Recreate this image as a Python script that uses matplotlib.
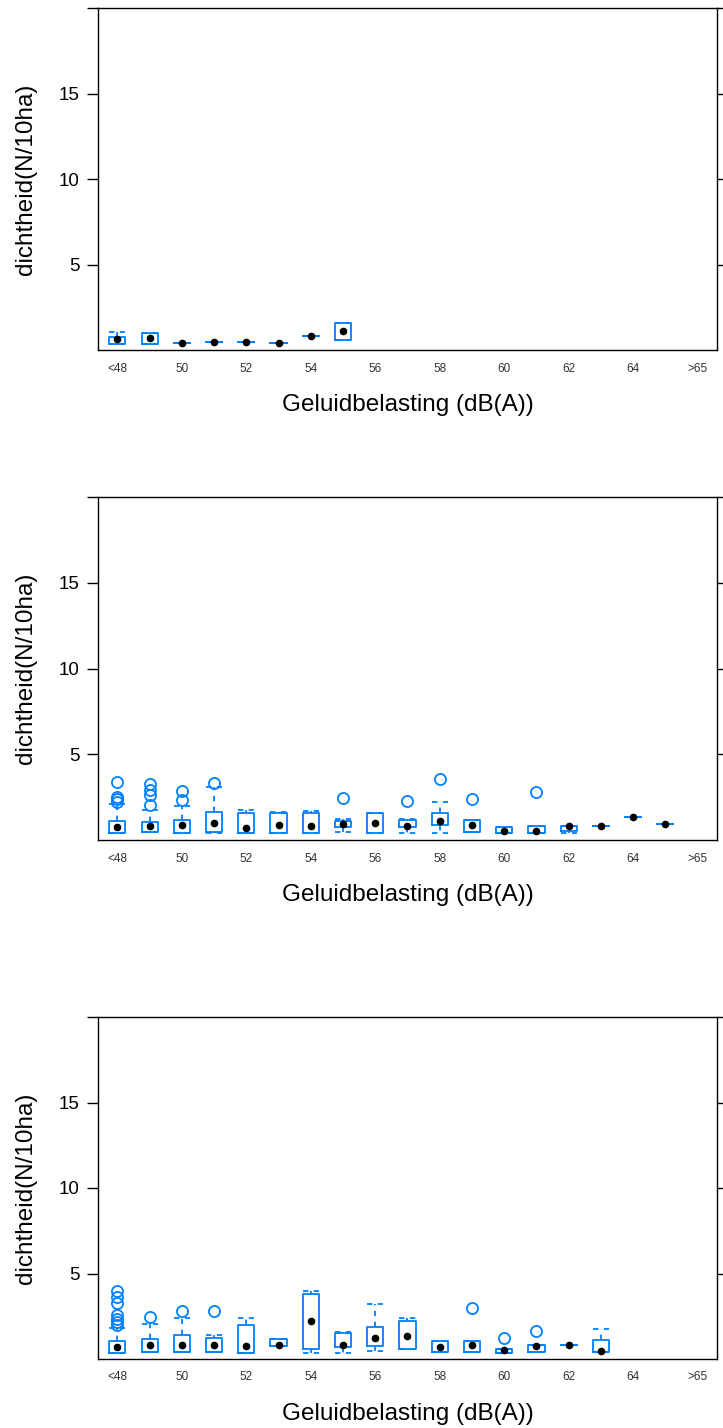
import numpy as np
import matplotlib.pyplot as plt

plt.rcParams['font.family'] = ['Liberation Sans', 'DejaVu Sans']

nan = np.nan

categories = ['<48'] + [str(i) for i in range(49, 66)] + ['>65']
tick_pos = list(range(0, 19, 2))
tick_labels = [categories[i] for i in tick_pos]

# panel 1
p1_lo = [0.33, 0.37, 0.39, 0.45, 0.45, 0.41, 0.80, 0.58] + [nan] * 11
p1_q1 = [0.33, 0.37, 0.39, 0.45, 0.45, 0.41, 0.80, 0.58] + [nan] * 11
p1_med = [0.66, 0.70, 0.39, 0.45, 0.45, 0.41, 0.80, 1.09] + [nan] * 11
p1_q3 = [0.74, 0.98, 0.39, 0.45, 0.45, 0.41, 0.80, 1.56] + [nan] * 11
p1_hi = [1.07, 0.98, 0.39, 0.45, 0.45, 0.41, 0.80, 1.56] + [nan] * 11
p1_fl = [[] for _ in range(19)]

# panel 2
p2_lo = [0.40, 0.45, 0.40, 0.43, 0.43, 0.43, 0.43, 0.48, 0.43, 0.43,
         0.43, 0.45, 0.43, 0.39, 0.43, 0.82, 1.34, 0.93, nan]
p2_q1 = [0.43, 0.48, 0.43, 0.48, 0.43, 0.43, 0.43, 0.74, 0.43, 0.74,
         0.87, 0.47, 0.43, 0.39, 0.50, 0.82, 1.34, 0.93, nan]
p2_med = [0.78, 0.82, 0.87, 1.01, 0.68, 0.87, 0.83, 0.91, 1.01, 0.83,
          1.13, 0.86, 0.54, 0.54, 0.82, 0.82, 1.34, 0.93, nan]
p2_q3 = [1.11, 1.07, 1.17, 1.63, 1.59, 1.59, 1.59, 1.09, 1.59, 1.17,
         1.59, 1.19, 0.74, 0.82, 0.82, 0.82, 1.34, 0.93, nan]
p2_hi = [2.10, 1.75, 1.98, 3.07, 1.75, 1.65, 1.71, 1.22, 1.60, 1.20,
         2.22, 1.19, 0.74, 0.82, 0.82, 0.82, 1.34, 0.93, nan]
p2_fl = [[3.36, 2.52, 2.37, 2.23], [3.25, 2.92, 2.61, 2.02], [2.87, 2.33], [3.30],
         [], [], [], [2.42], [], [2.30], [3.58], [2.41], [], [2.82], [], [], [], [], []]

# panel 3
p3_lo = [0.37, 0.41, 0.43, 0.40, 0.37, 0.76, 0.37, 0.37, 0.49, 0.57,
         0.43, 0.43, 0.37, 0.39, 0.82, 0.39, nan, nan, nan]
p3_q1 = [0.37, 0.41, 0.43, 0.43, 0.37, 0.76, 0.57, 0.68, 0.76, 0.57,
         0.43, 0.43, 0.37, 0.39, 0.82, 0.39, nan, nan, nan]
p3_med = [0.72, 0.80, 0.82, 0.82, 0.76, 0.80, 2.22, 0.84, 1.21, 1.35,
          0.72, 0.82, 0.51, 0.76, 0.82, 0.49, nan, nan, nan]
p3_q3 = [1.05, 1.15, 1.39, 1.21, 1.99, 1.17, 3.78, 1.50, 1.89, 2.20,
         1.05, 1.05, 0.60, 0.82, 0.82, 1.11, nan, nan, nan]
p3_hi = [1.83, 2.05, 2.38, 1.42, 2.42, 1.17, 3.98, 1.60, 3.22, 2.40,
         1.05, 1.05, 0.60, 0.82, 0.82, 1.74, nan, nan, nan]
p3_fl = [[4.0, 3.65, 3.25, 2.55, 2.35, 2.15, 2.0], [2.47], [2.83], [2.83],
         [], [], [], [], [], [], [], [3.0], [1.21], [1.64], [], [], [], [], []]

panels = [
    (p1_lo, p1_q1, p1_med, p1_q3, p1_hi, p1_fl),
    (p2_lo, p2_q1, p2_med, p2_q3, p2_hi, p2_fl),
    (p3_lo, p3_q1, p3_med, p3_q3, p3_hi, p3_fl),
]

blue = '#0080ff'
W, H = 723, 1428
fig = plt.figure(figsize=(W / 100, H / 100), dpi=100)

boxes = [(8, 350), (497, 840), (1017, 1359)]
left, right = 98, 717

for (top, bot), (lo, q1, med, q3, hi, fl) in zip(boxes, panels):
    ax = fig.add_axes([left / W, 1 - bot / H, (right - left) / W, (bot - top) / H])
    stats = []
    pos = []
    for i in range(len(categories)):
        if np.isnan(med[i]):
            continue
        stats.append(dict(whislo=lo[i], q1=q1[i], med=med[i], q3=q3[i],
                          whishi=hi[i], fliers=fl[i]))
        pos.append(i)
    ax.bxp(stats, positions=pos, widths=0.5, capwidths=0.5, showfliers=True,
           boxprops=dict(color=blue, lw=1.3),
           whiskerprops=dict(color=blue, lw=1.3, ls=(0, (3, 3))),
           capprops=dict(color=blue, lw=1.3, ls=(0, (3, 3))),
           medianprops=dict(visible=False),
           flierprops=dict(marker='o', mfc='none', mec=blue, ms=8, mew=1.3))
    ax.plot(pos, [s['med'] for s in stats], 'o', color='black', ms=4.5, zorder=5)

    ax.set_xlim(-0.6, 18.6)
    ax.set_ylim(0, 20)
    ax.set_yticks([5, 10, 15, 20])
    ax.set_yticklabels(['5', '10', '15', ''])
    ax.set_xticks(tick_pos)
    ax.set_xticklabels(tick_labels, fontsize=8.5, color='#333333')
    ax.tick_params(axis='y', direction='out', length=8, width=1,
                   labelsize=13.5, pad=5, right=True)
    ax.tick_params(axis='x', length=0, pad=9)
    ax.set_ylabel('dichtheid(N/10ha)', fontsize=17.5)
    ax.yaxis.set_label_coords(-0.0985, 0.5)
    ax.set_xlabel('Geluidbelasting (dB(A))', fontsize=17.5)
    ax.xaxis.set_label_coords(0.5, -0.128)
    for s in ax.spines.values():
        s.set_linewidth(1)

fig.savefig('out.png', dpi=100)
